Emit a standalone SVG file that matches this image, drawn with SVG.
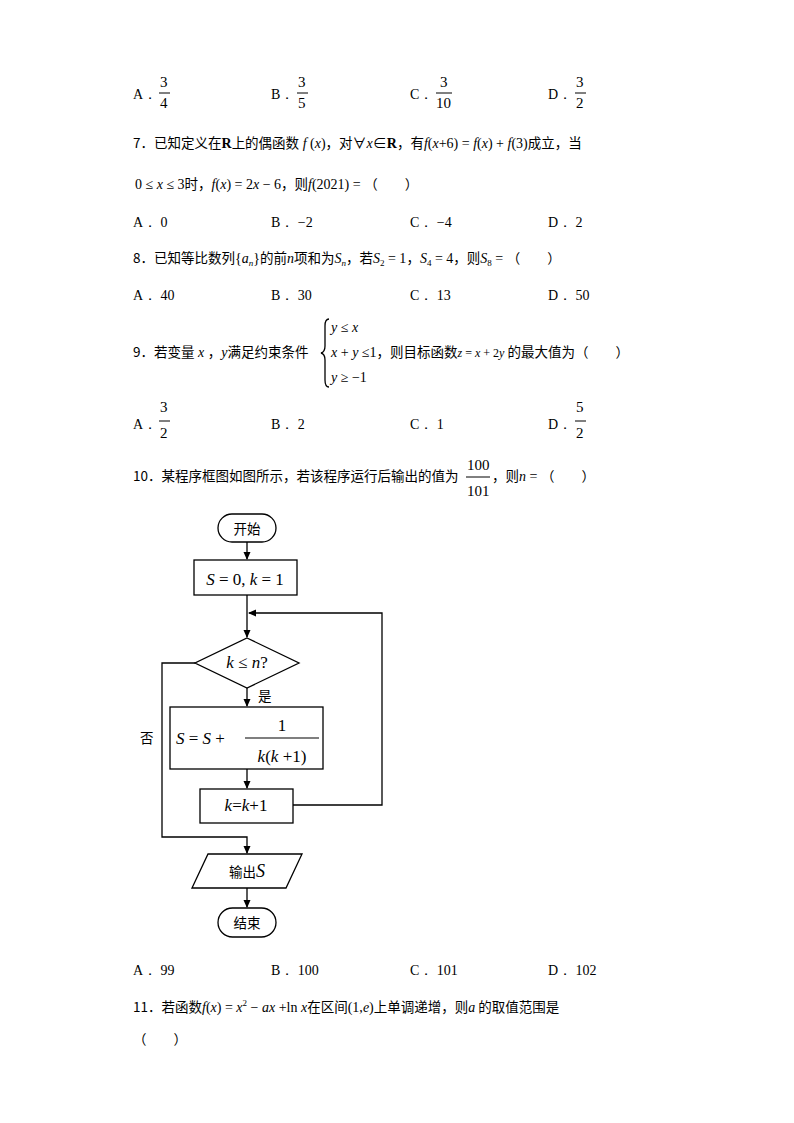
<svg xmlns="http://www.w3.org/2000/svg" width="794" height="1123" viewBox="0 0 794 1123">
<style>
text{font-family:"Liberation Serif","Noto Sans CJK SC",serif;font-size:14px;fill:#000}
.c{font-family:"Noto Sans CJK SC","Liberation Sans",sans-serif;font-size:13.5px}
.m{font-family:"Liberation Serif",serif;font-style:italic}
.n{font-family:"Liberation Serif",serif}
.f{font-family:"Liberation Serif",serif;font-size:15px}
.fc{font-family:"Liberation Serif","Noto Sans CJK SC",serif;font-size:17px}
.s{fill:#fff;stroke:#000;stroke-width:1.3}
.l{fill:none;stroke:#000;stroke-width:1.3}
</style>
<defs><marker id="a" markerWidth="8" markerHeight="8" refX="7" refY="4" orient="auto" markerUnits="userSpaceOnUse"><path d="M0,0.5 L8,4 L0,7.5z" fill="#000"/></marker></defs>
<rect width="794" height="1123" fill="#fff"/>
<!-- row 6 options -->
<g>
<text x="133" y="99" class="n">A．</text><text x="160" y="87" class="f">3</text><line x1="159" y1="93" x2="170" y2="93" stroke="#000"/><text x="160" y="108" class="f">4</text>
<text x="271" y="99" class="n">B．</text><text x="298" y="87" class="f">3</text><line x1="297" y1="93" x2="308" y2="93" stroke="#000"/><text x="298" y="108" class="f">5</text>
<text x="410" y="99" class="n">C．</text><text x="440" y="87" class="f">3</text><line x1="436" y1="93" x2="452" y2="93" stroke="#000"/><text x="436" y="108" class="f">10</text>
<text x="548" y="99" class="n">D．</text><text x="576" y="87" class="f">3</text><line x1="575" y1="93" x2="586" y2="93" stroke="#000"/><text x="576" y="108" class="f">2</text>
</g>
<text x="133" y="148"><tspan class="c">7．已知定义在</tspan><tspan font-weight="bold">R</tspan><tspan class="c">上的偶函数</tspan><tspan class="m"> f </tspan><tspan>(</tspan><tspan class="m">x</tspan><tspan>)</tspan><tspan class="c">，对</tspan><tspan>∀</tspan><tspan class="m">x</tspan><tspan>∈</tspan><tspan font-weight="bold">R</tspan><tspan class="c">，有</tspan><tspan class="m">f</tspan><tspan>(</tspan><tspan class="m">x</tspan><tspan>+6) = </tspan><tspan class="m">f</tspan><tspan>(</tspan><tspan class="m">x</tspan><tspan>) + </tspan><tspan class="m">f</tspan><tspan>(3)</tspan><tspan class="c">成立，当</tspan></text>
<text x="135" y="189"><tspan>0 ≤ </tspan><tspan class="m">x</tspan><tspan> ≤ 3</tspan><tspan class="c">时，</tspan><tspan class="m">f</tspan><tspan>(</tspan><tspan class="m">x</tspan><tspan>) = 2</tspan><tspan class="m">x</tspan><tspan> − 6</tspan><tspan class="c">，则</tspan><tspan class="m">f</tspan><tspan>(2021) = </tspan><tspan class="c">（　　）</tspan></text>
<g>
<text x="133" y="227" class="n">A． 0</text><text x="271" y="227" class="n">B． −2</text><text x="410" y="227" class="n">C． −4</text><text x="548" y="227" class="n">D． 2</text>
</g>
<text x="133" y="263"><tspan class="c">8．已知等比数列</tspan><tspan>{</tspan><tspan class="m">a</tspan><tspan class="m" font-size="9" dy="3">n</tspan><tspan dy="-3">}</tspan><tspan class="c">的前</tspan><tspan class="m">n</tspan><tspan class="c">项和为</tspan><tspan class="m">S</tspan><tspan class="m" font-size="9" dy="3">n</tspan><tspan class="c" dy="-3">，若</tspan><tspan class="m">S</tspan><tspan font-size="9" dy="3">2</tspan><tspan dy="-3"> = 1</tspan><tspan class="c">，</tspan><tspan class="m">S</tspan><tspan font-size="9" dy="3">4</tspan><tspan dy="-3"> = 4</tspan><tspan class="c">，则</tspan><tspan class="m">S</tspan><tspan font-size="9" dy="3">8</tspan><tspan dy="-3"> = </tspan><tspan class="c">（　　）</tspan></text>
<g>
<text x="133" y="300" class="n">A． 40</text><text x="271" y="300" class="n">B． 30</text><text x="410" y="300" class="n">C． 13</text><text x="548" y="300" class="n">D． 50</text>
</g>
<text x="133" y="357"><tspan class="c">9．若变量</tspan><tspan class="m"> x </tspan><tspan class="c">，</tspan><tspan class="m">y</tspan><tspan class="c">满足约束条件</tspan></text>
<path d="M329,319 Q325,319 325,326 L325,346 Q325,352 321,353 Q325,354 325,360 L325,380 Q325,387 329,387" class="l" stroke-width="1"/>
<text x="331" y="332"><tspan class="m">y</tspan><tspan> ≤ </tspan><tspan class="m">x</tspan></text>
<text x="331" y="357"><tspan class="m">x</tspan><tspan> + </tspan><tspan class="m">y</tspan><tspan> ≤1</tspan><tspan class="c">，则目标函数</tspan><tspan class="m" font-size="12">z</tspan><tspan font-size="12"> = </tspan><tspan class="m" font-size="12">x</tspan><tspan font-size="12"> + 2</tspan><tspan class="m" font-size="12">y</tspan><tspan class="c"> 的最大值为（　　）</tspan></text>
<text x="331" y="382"><tspan class="m">y</tspan><tspan> ≥ −1</tspan></text>
<g>
<text x="133" y="429" class="n">A．</text><text x="160" y="412" class="f">3</text><line x1="159" y1="421" x2="170" y2="421" stroke="#000"/><text x="160" y="438" class="f">2</text>
<text x="271" y="429" class="n">B． 2</text><text x="410" y="429" class="n">C． 1</text>
<text x="548" y="429" class="n">D．</text><text x="576" y="412" class="f">5</text><line x1="575" y1="421" x2="586" y2="421" stroke="#000"/><text x="576" y="438" class="f">2</text>
</g>
<text x="133" y="481"><tspan class="c">10．某程序框图如图所示，若该程序运行后输出的值为</tspan></text>
<text x="467" y="470" class="f">100</text><line x1="466" y1="477" x2="490" y2="477" stroke="#000"/><text x="467" y="496" class="f">101</text>
<text x="492" y="481"><tspan class="c">，则</tspan><tspan class="m">n</tspan><tspan> = </tspan><tspan class="c">（　　）</tspan></text>
<!-- flowchart -->
<g id="connectors">
<line x1="247" y1="542" x2="247" y2="559" class="l" marker-end="url(#a)"/>
<line x1="247" y1="595" x2="247" y2="637" class="l" marker-end="url(#a)"/>
<line x1="247" y1="688" x2="247" y2="706" class="l" marker-end="url(#a)"/>
<line x1="247" y1="769" x2="247" y2="788" class="l" marker-end="url(#a)"/>
<polyline points="293,805 382,805 382,613 249,613" class="l" marker-end="url(#a)"/>
<polyline points="195,663 162,663 162,837 247,837 247,853" class="l" marker-end="url(#a)"/>
<line x1="247" y1="888" x2="247" y2="907" class="l" marker-end="url(#a)"/>
<text x="258" y="701" class="c" font-size="16">是</text>
<text x="140" y="743" class="c" font-size="16">否</text>
</g>
<g id="start"><rect x="218" y="514" width="58" height="28" rx="14" class="s"/><text x="247" y="534" text-anchor="middle" class="c" font-size="16">开始</text></g>
<g id="init"><rect x="194" y="560" width="103" height="35" class="s"/><text x="245" y="585" text-anchor="middle" class="fc" font-size="20"><tspan class="m">S</tspan> = 0, <tspan class="m">k</tspan> = 1</text></g>
<g id="cond"><polygon points="247,638 299,663 247,688 195,663" class="s"/><text x="247" y="668" text-anchor="middle" class="fc" font-size="15"><tspan class="m">k</tspan> ≤ <tspan class="m">n</tspan>?</text></g>
<g id="update"><rect x="170" y="707" width="153" height="62" class="s"/><text x="176" y="744" class="fc" font-size="21"><tspan class="m">S</tspan> = <tspan class="m">S</tspan> +</text><text x="282" y="731" text-anchor="middle" class="fc" font-size="19">1</text><line x1="245" y1="738" x2="319" y2="738" stroke="#000" stroke-width="1.2"/><text x="282" y="762" text-anchor="middle" class="fc" font-size="19"><tspan class="m">k</tspan>(<tspan class="m">k</tspan> +1)</text></g>
<g id="inc"><rect x="200" y="789" width="93" height="34" class="s"/><text x="246" y="811" text-anchor="middle" class="fc" font-size="16"><tspan class="m">k</tspan>=<tspan class="m">k</tspan>+1</text></g>
<g id="output"><polygon points="208,854 302,854 286,888 192,888" class="s"/><text x="247" y="877" text-anchor="middle" class="c" font-size="16">输出<tspan class="m" font-family="Liberation Serif" font-size="18">S</tspan></text></g>
<g id="end"><rect x="218" y="908" width="58" height="29" rx="14.5" class="s"/><text x="247" y="928" text-anchor="middle" class="c" font-size="16">结束</text></g>
<g>
<text x="133" y="975" class="n">A． 99</text><text x="271" y="975" class="n">B． 100</text><text x="410" y="975" class="n">C． 101</text><text x="548" y="975" class="n">D． 102</text>
</g>
<text x="133" y="1012"><tspan class="c">11．若函数</tspan><tspan class="m">f</tspan><tspan>(</tspan><tspan class="m">x</tspan><tspan>) = </tspan><tspan class="m">x</tspan><tspan font-size="9" dy="-6">2</tspan><tspan dy="6"> − </tspan><tspan class="m">ax</tspan><tspan> +ln </tspan><tspan class="m">x</tspan><tspan class="c">在区间</tspan><tspan>(1,</tspan><tspan class="m">e</tspan><tspan>)</tspan><tspan class="c">上单调递增，则</tspan><tspan class="m">a</tspan><tspan class="c"> 的取值范围是</tspan></text>
<text x="133" y="1044" class="c">（　　）</text>
</svg>
